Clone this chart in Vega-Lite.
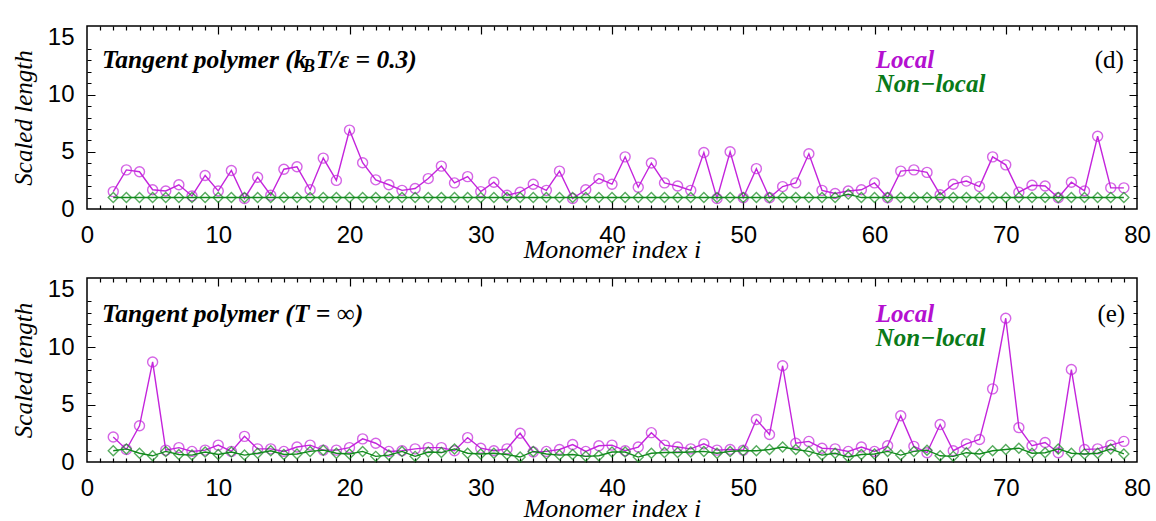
{
  "$schema": "https://vega.github.io/schema/vega-lite/v6.json",
  "background": "white",
  "padding": {"left": 10, "top": 24, "right": 0, "bottom": 0},
  "bounds": "flush",
  "spacing": 69,
  "config": {
    "view": {"stroke": "black", "strokeWidth": 1.5},
    "axis": {"labelColor": "black", "titleColor": "black", "domain": false, "ticks": false, "gridColor": "black", "gridOpacity": 1, "gridWidth": 1.2}
  },
  "datasets": {
    "d": [
      {"i":2,"local":1.52,"nonlocal":1.0},{"i":3,"local":3.42,"nonlocal":1.0},{"i":4,"local":3.26,"nonlocal":1.0},{"i":5,"local":1.68,"nonlocal":1.0},
      {"i":6,"local":1.58,"nonlocal":1.0},{"i":7,"local":2.12,"nonlocal":1.0},{"i":8,"local":1.14,"nonlocal":1.0},{"i":9,"local":2.93,"nonlocal":1.0},
      {"i":10,"local":1.58,"nonlocal":1.0},{"i":11,"local":3.37,"nonlocal":1.0},{"i":12,"local":0.92,"nonlocal":1.0},{"i":13,"local":2.77,"nonlocal":1.0},
      {"i":14,"local":1.2,"nonlocal":1.0},{"i":15,"local":3.48,"nonlocal":1.0},{"i":16,"local":3.69,"nonlocal":1.0},{"i":17,"local":1.68,"nonlocal":1.0},
      {"i":18,"local":4.45,"nonlocal":1.0},{"i":19,"local":2.5,"nonlocal":1.0},{"i":20,"local":6.9,"nonlocal":1.0},{"i":21,"local":4.05,"nonlocal":1.0},
      {"i":22,"local":2.55,"nonlocal":1.0},{"i":23,"local":2.12,"nonlocal":1.0},{"i":24,"local":1.63,"nonlocal":1.0},{"i":25,"local":1.79,"nonlocal":1.0},
      {"i":26,"local":2.66,"nonlocal":1.0},{"i":27,"local":3.75,"nonlocal":1.0},{"i":28,"local":2.28,"nonlocal":1.0},{"i":29,"local":2.83,"nonlocal":1.0},
      {"i":30,"local":1.52,"nonlocal":1.0},{"i":31,"local":2.34,"nonlocal":1.0},{"i":32,"local":1.2,"nonlocal":1.0},{"i":33,"local":1.47,"nonlocal":1.0},
      {"i":34,"local":2.17,"nonlocal":1.0},{"i":35,"local":1.63,"nonlocal":1.0},{"i":36,"local":3.31,"nonlocal":1.0},{"i":37,"local":0.92,"nonlocal":1.0},
      {"i":38,"local":1.68,"nonlocal":1.0},{"i":39,"local":2.66,"nonlocal":1.0},{"i":40,"local":2.17,"nonlocal":1.0},{"i":41,"local":4.56,"nonlocal":1.0},
      {"i":42,"local":1.9,"nonlocal":1.0},{"i":43,"local":4.02,"nonlocal":1.0},{"i":44,"local":2.28,"nonlocal":1.0},{"i":45,"local":2.01,"nonlocal":1.0},
      {"i":46,"local":1.63,"nonlocal":1.0},{"i":47,"local":4.94,"nonlocal":1.0},{"i":48,"local":0.92,"nonlocal":1.0},{"i":49,"local":5.0,"nonlocal":1.0},
      {"i":50,"local":0.98,"nonlocal":1.0},{"i":51,"local":3.53,"nonlocal":1.0},{"i":52,"local":0.98,"nonlocal":1.0},{"i":53,"local":1.96,"nonlocal":1.0},
      {"i":54,"local":2.28,"nonlocal":1.0},{"i":55,"local":4.83,"nonlocal":1.0},{"i":56,"local":1.63,"nonlocal":1.0},{"i":57,"local":1.36,"nonlocal":1.0},
      {"i":58,"local":1.58,"nonlocal":1.3},{"i":59,"local":1.68,"nonlocal":1.0},{"i":60,"local":2.28,"nonlocal":1.0},{"i":61,"local":0.98,"nonlocal":1.0},
      {"i":62,"local":3.31,"nonlocal":1.0},{"i":63,"local":3.42,"nonlocal":1.0},{"i":64,"local":3.2,"nonlocal":1.0},{"i":65,"local":1.25,"nonlocal":1.0},
      {"i":66,"local":2.17,"nonlocal":1.0},{"i":67,"local":2.44,"nonlocal":1.0},{"i":68,"local":1.96,"nonlocal":1.0},{"i":69,"local":4.56,"nonlocal":1.0},
      {"i":70,"local":3.86,"nonlocal":1.0},{"i":71,"local":1.47,"nonlocal":1.0},{"i":72,"local":2.07,"nonlocal":1.0},{"i":73,"local":2.01,"nonlocal":1.0},
      {"i":74,"local":0.98,"nonlocal":1.0},{"i":75,"local":2.34,"nonlocal":1.0},{"i":76,"local":1.58,"nonlocal":1.0},{"i":77,"local":6.36,"nonlocal":1.0},
      {"i":78,"local":1.85,"nonlocal":1.0},{"i":79,"local":1.85,"nonlocal":1.0}
    ],
    "e": [
      {"i":2,"local":2.17,"nonlocal":0.98},{"i":3,"local":1.09,"nonlocal":1.14},{"i":4,"local":3.15,"nonlocal":0.76},{"i":5,"local":8.7,"nonlocal":0.54},
      {"i":6,"local":1.03,"nonlocal":0.92},{"i":7,"local":1.25,"nonlocal":0.65},{"i":8,"local":0.92,"nonlocal":0.6},{"i":9,"local":1.03,"nonlocal":0.87},
      {"i":10,"local":1.47,"nonlocal":0.65},{"i":11,"local":0.92,"nonlocal":0.87},{"i":12,"local":2.23,"nonlocal":0.6},{"i":13,"local":1.14,"nonlocal":0.76},
      {"i":14,"local":1.14,"nonlocal":0.98},{"i":15,"local":0.92,"nonlocal":0.65},{"i":16,"local":1.3,"nonlocal":0.7},{"i":17,"local":1.47,"nonlocal":0.92},
      {"i":18,"local":1.03,"nonlocal":1.03},{"i":19,"local":1.03,"nonlocal":0.76},{"i":20,"local":1.25,"nonlocal":0.7},{"i":21,"local":2.01,"nonlocal":0.92},
      {"i":22,"local":1.63,"nonlocal":0.49},{"i":23,"local":0.92,"nonlocal":0.6},{"i":24,"local":0.98,"nonlocal":0.92},{"i":25,"local":1.14,"nonlocal":0.49},
      {"i":26,"local":1.25,"nonlocal":0.87},{"i":27,"local":1.25,"nonlocal":0.82},{"i":28,"local":0.98,"nonlocal":1.14},{"i":29,"local":2.12,"nonlocal":0.76},
      {"i":30,"local":1.2,"nonlocal":0.7},{"i":31,"local":0.98,"nonlocal":0.76},{"i":32,"local":1.14,"nonlocal":0.65},{"i":33,"local":2.5,"nonlocal":0.43},
      {"i":34,"local":0.87,"nonlocal":0.92},{"i":35,"local":0.92,"nonlocal":0.7},{"i":36,"local":1.09,"nonlocal":0.6},{"i":37,"local":1.52,"nonlocal":0.65},
      {"i":38,"local":0.92,"nonlocal":0.49},{"i":39,"local":1.41,"nonlocal":0.54},{"i":40,"local":1.47,"nonlocal":0.87},{"i":41,"local":0.98,"nonlocal":0.87},
      {"i":42,"local":1.3,"nonlocal":0.43},{"i":43,"local":2.55,"nonlocal":0.76},{"i":44,"local":1.47,"nonlocal":0.82},{"i":45,"local":1.3,"nonlocal":0.82},
      {"i":46,"local":1.14,"nonlocal":0.87},{"i":47,"local":1.58,"nonlocal":0.92},{"i":48,"local":1.03,"nonlocal":0.76},{"i":49,"local":1.09,"nonlocal":0.92},
      {"i":50,"local":1.03,"nonlocal":0.98},{"i":51,"local":3.7,"nonlocal":0.98},{"i":52,"local":2.39,"nonlocal":1.09},{"i":53,"local":8.37,"nonlocal":1.3},
      {"i":54,"local":1.63,"nonlocal":1.09},{"i":55,"local":1.79,"nonlocal":0.92},{"i":56,"local":1.2,"nonlocal":0.6},{"i":57,"local":1.14,"nonlocal":0.76},
      {"i":58,"local":0.92,"nonlocal":0.43},{"i":59,"local":1.3,"nonlocal":0.65},{"i":60,"local":0.92,"nonlocal":0.7},{"i":61,"local":1.41,"nonlocal":0.92},
      {"i":62,"local":4.02,"nonlocal":0.6},{"i":63,"local":1.36,"nonlocal":0.92},{"i":64,"local":0.81,"nonlocal":1.03},{"i":65,"local":3.26,"nonlocal":0.54},
      {"i":66,"local":0.98,"nonlocal":0.49},{"i":67,"local":1.58,"nonlocal":0.81},{"i":68,"local":1.96,"nonlocal":0.7},{"i":69,"local":6.36,"nonlocal":0.98},
      {"i":70,"local":12.5,"nonlocal":1.09},{"i":71,"local":2.99,"nonlocal":1.2},{"i":72,"local":1.41,"nonlocal":0.76},{"i":73,"local":1.69,"nonlocal":0.81},
      {"i":74,"local":0.81,"nonlocal":1.14},{"i":75,"local":8.04,"nonlocal":0.76},{"i":76,"local":1.09,"nonlocal":0.7},{"i":77,"local":1.14,"nonlocal":0.76},
      {"i":78,"local":1.47,"nonlocal":1.14},{"i":79,"local":1.79,"nonlocal":0.7}
    ]
  },
  "vconcat": [
    {
      "width": 1050, "height": 183,
      "data": {"name": "d"},
      "resolve": {"axis": {"x": "independent", "y": "independent"}},
      "layer": [
        {"mark": {"type": "line", "color": "#c424dc", "strokeWidth": 1.4},
         "encoding": {
           "x": {"field": "i", "type": "quantitative", "scale": {"domain": [0, 80]},
                 "axis": {"orient": "bottom", "values": [0,10,20,30,40,50,60,70,80], "grid": false, "labelPadding": 14, "labelFont": "Liberation Sans", "labelFontSize": 24, "labelFlush": false,
                          "title": "Monomer index i", "titleFont": "Liberation Serif", "titleFontStyle": "italic", "titleFontWeight": "normal", "titleFontSize": 26, "titleY": 40, "titleBaseline": "middle"}},
           "y": {"field": "local", "type": "quantitative", "scale": {"domain": [0, 15]},
                 "axis": {"orient": "left", "values": [0,5,10,15], "grid": false, "labelPadding": 13, "labelFont": "Liberation Sans", "labelFontSize": 24, "labelFlush": false,
                          "title": "Scaled length", "titleFont": "Liberation Serif", "titleFontStyle": "italic", "titleFontWeight": "normal", "titleFontSize": 25, "titleX": -64, "titleBaseline": "middle"}}
         }},
        {"mark": {"type": "point", "shape": "circle", "filled": false, "color": "#c424dc", "size": 100, "strokeWidth": 1.4},
         "encoding": {
           "x": {"field": "i", "type": "quantitative", "axis": {"orient": "bottom", "values": [10,20,30,40,50,60,70], "grid": true, "gridDash": [8, 167], "labels": false, "title": null}},
           "y": {"field": "local", "type": "quantitative", "axis": {"orient": "left", "values": [5,10], "grid": true, "gridDash": [8, 1034], "labels": false, "title": null}}
         }},
        {"mark": {"type": "line", "color": "#118a1c", "strokeWidth": 1.4},
         "encoding": {
           "x": {"field": "i", "type": "quantitative", "axis": {"orient": "bottom", "values": [1,2,3,4,5,6,7,8,9,11,12,13,14,15,16,17,18,19,21,22,23,24,25,26,27,28,29,31,32,33,34,35,36,37,38,39,41,42,43,44,45,46,47,48,49,51,52,53,54,55,56,57,58,59,61,62,63,64,65,66,67,68,69,71,72,73,74,75,76,77,78,79], "grid": true, "gridDash": [4, 175], "labels": false, "title": null}},
           "y": {"field": "nonlocal", "type": "quantitative", "axis": {"orient": "left", "values": [1,2,3,4,6,7,8,9,11,12,13,14], "grid": true, "gridDash": [4, 1042], "labels": false, "title": null}}
         }},
        {"mark": {"type": "point", "shape": "diamond", "filled": false, "color": "#118a1c", "size": 100, "strokeWidth": 1.4},
         "encoding": {
           "x": {"field": "i", "type": "quantitative", "axis": null},
           "y": {"field": "nonlocal", "type": "quantitative", "axis": null}
         }},
        {"data": {"values": [{"t": "Tangent polymer (k"}]},
         "mark": {"type": "text", "align": "left", "baseline": "middle", "font": "Liberation Serif", "fontStyle": "italic", "fontWeight": "bold", "fontSize": 25.5, "color": "black"},
         "encoding": {"x": {"datum": 1.14, "type": "quantitative", "axis": null}, "y": {"datum": 13.0, "type": "quantitative", "axis": null}, "text": {"field": "t"}}},
        {"data": {"values": [{"t": "B"}]},
         "mark": {"type": "text", "align": "left", "baseline": "middle", "font": "Liberation Serif", "fontStyle": "italic", "fontWeight": "bold", "fontSize": 18, "color": "black"},
         "encoding": {"x": {"datum": 16.45, "type": "quantitative", "axis": null}, "y": {"datum": 12.4, "type": "quantitative", "axis": null}, "text": {"field": "t"}}},
        {"data": {"values": [{"t": "T/ε = 0.3)"}]},
         "mark": {"type": "text", "align": "left", "baseline": "middle", "font": "Liberation Serif", "fontStyle": "italic", "fontWeight": "bold", "fontSize": 25.5, "color": "black"},
         "encoding": {"x": {"datum": 17.45, "type": "quantitative", "axis": null}, "y": {"datum": 13.0, "type": "quantitative", "axis": null}, "text": {"field": "t"}}},
        {"data": {"values": [{"t": "Local"}]},
         "mark": {"type": "text", "align": "left", "baseline": "middle", "font": "Liberation Serif", "fontStyle": "italic", "fontWeight": "bold", "fontSize": 25, "color": "#b410d0"},
         "encoding": {"x": {"datum": 60.1, "type": "quantitative", "axis": null}, "y": {"datum": 13.0, "type": "quantitative", "axis": null}, "text": {"field": "t"}}},
        {"data": {"values": [{"t": "Non−local"}]},
         "mark": {"type": "text", "align": "left", "baseline": "middle", "font": "Liberation Serif", "fontStyle": "italic", "fontWeight": "bold", "fontSize": 25, "color": "#0a7a18"},
         "encoding": {"x": {"datum": 60.1, "type": "quantitative", "axis": null}, "y": {"datum": 10.9, "type": "quantitative", "axis": null}, "text": {"field": "t"}}},
        {"data": {"values": [{"t": "(d)"}]},
         "mark": {"type": "text", "align": "right", "baseline": "middle", "font": "Liberation Serif", "fontSize": 25, "color": "black"},
         "encoding": {"x": {"datum": 79.0, "type": "quantitative", "axis": null}, "y": {"datum": 13.0, "type": "quantitative", "axis": null}, "text": {"field": "t"}}}
      ]
    },
    {
      "width": 1050, "height": 184,
      "data": {"name": "e"},
      "resolve": {"axis": {"x": "independent", "y": "independent"}},
      "layer": [
        {"mark": {"type": "line", "color": "#c424dc", "strokeWidth": 1.4},
         "encoding": {
           "x": {"field": "i", "type": "quantitative", "scale": {"domain": [0, 80]},
                 "axis": {"orient": "bottom", "values": [0,10,20,30,40,50,60,70,80], "grid": false, "labelPadding": 14, "labelFont": "Liberation Sans", "labelFontSize": 24, "labelFlush": false,
                          "title": "Monomer index i", "titleFont": "Liberation Serif", "titleFontStyle": "italic", "titleFontWeight": "normal", "titleFontSize": 26, "titleY": 46, "titleBaseline": "middle"}},
           "y": {"field": "local", "type": "quantitative", "scale": {"domain": [0, 15]},
                 "axis": {"orient": "left", "values": [0,5,10,15], "grid": false, "labelPadding": 13, "labelFont": "Liberation Sans", "labelFontSize": 24, "labelFlush": false,
                          "title": "Scaled length", "titleFont": "Liberation Serif", "titleFontStyle": "italic", "titleFontWeight": "normal", "titleFontSize": 25, "titleX": -64, "titleBaseline": "middle"}}
         }},
        {"mark": {"type": "point", "shape": "circle", "filled": false, "color": "#c424dc", "size": 100, "strokeWidth": 1.4},
         "encoding": {
           "x": {"field": "i", "type": "quantitative", "axis": {"orient": "bottom", "values": [10,20,30,40,50,60,70], "grid": true, "gridDash": [8, 168], "labels": false, "title": null}},
           "y": {"field": "local", "type": "quantitative", "axis": {"orient": "left", "values": [5,10], "grid": true, "gridDash": [8, 1034], "labels": false, "title": null}}
         }},
        {"mark": {"type": "line", "color": "#118a1c", "strokeWidth": 1.4},
         "encoding": {
           "x": {"field": "i", "type": "quantitative", "axis": {"orient": "bottom", "values": [1,2,3,4,5,6,7,8,9,11,12,13,14,15,16,17,18,19,21,22,23,24,25,26,27,28,29,31,32,33,34,35,36,37,38,39,41,42,43,44,45,46,47,48,49,51,52,53,54,55,56,57,58,59,61,62,63,64,65,66,67,68,69,71,72,73,74,75,76,77,78,79], "grid": true, "gridDash": [4, 176], "labels": false, "title": null}},
           "y": {"field": "nonlocal", "type": "quantitative", "axis": {"orient": "left", "values": [1,2,3,4,6,7,8,9,11,12,13,14], "grid": true, "gridDash": [4, 1042], "labels": false, "title": null}}
         }},
        {"mark": {"type": "point", "shape": "diamond", "filled": false, "color": "#118a1c", "size": 100, "strokeWidth": 1.4},
         "encoding": {
           "x": {"field": "i", "type": "quantitative", "axis": null},
           "y": {"field": "nonlocal", "type": "quantitative", "axis": null}
         }},
        {"data": {"values": [{"t": "Tangent polymer (T = ∞)"}]},
         "mark": {"type": "text", "align": "left", "baseline": "middle", "font": "Liberation Serif", "fontStyle": "italic", "fontWeight": "bold", "fontSize": 25.5, "color": "black"},
         "encoding": {"x": {"datum": 1.14, "type": "quantitative", "axis": null}, "y": {"datum": 12.9, "type": "quantitative", "axis": null}, "text": {"field": "t"}}},
        {"data": {"values": [{"t": "Local"}]},
         "mark": {"type": "text", "align": "left", "baseline": "middle", "font": "Liberation Serif", "fontStyle": "italic", "fontWeight": "bold", "fontSize": 25, "color": "#b410d0"},
         "encoding": {"x": {"datum": 60.1, "type": "quantitative", "axis": null}, "y": {"datum": 12.9, "type": "quantitative", "axis": null}, "text": {"field": "t"}}},
        {"data": {"values": [{"t": "Non−local"}]},
         "mark": {"type": "text", "align": "left", "baseline": "middle", "font": "Liberation Serif", "fontStyle": "italic", "fontWeight": "bold", "fontSize": 25, "color": "#0a7a18"},
         "encoding": {"x": {"datum": 60.1, "type": "quantitative", "axis": null}, "y": {"datum": 10.75, "type": "quantitative", "axis": null}, "text": {"field": "t"}}},
        {"data": {"values": [{"t": "(e)"}]},
         "mark": {"type": "text", "align": "right", "baseline": "middle", "font": "Liberation Serif", "fontSize": 25, "color": "black"},
         "encoding": {"x": {"datum": 79.1, "type": "quantitative", "axis": null}, "y": {"datum": 12.9, "type": "quantitative", "axis": null}, "text": {"field": "t"}}}
      ]
    }
  ]
}
